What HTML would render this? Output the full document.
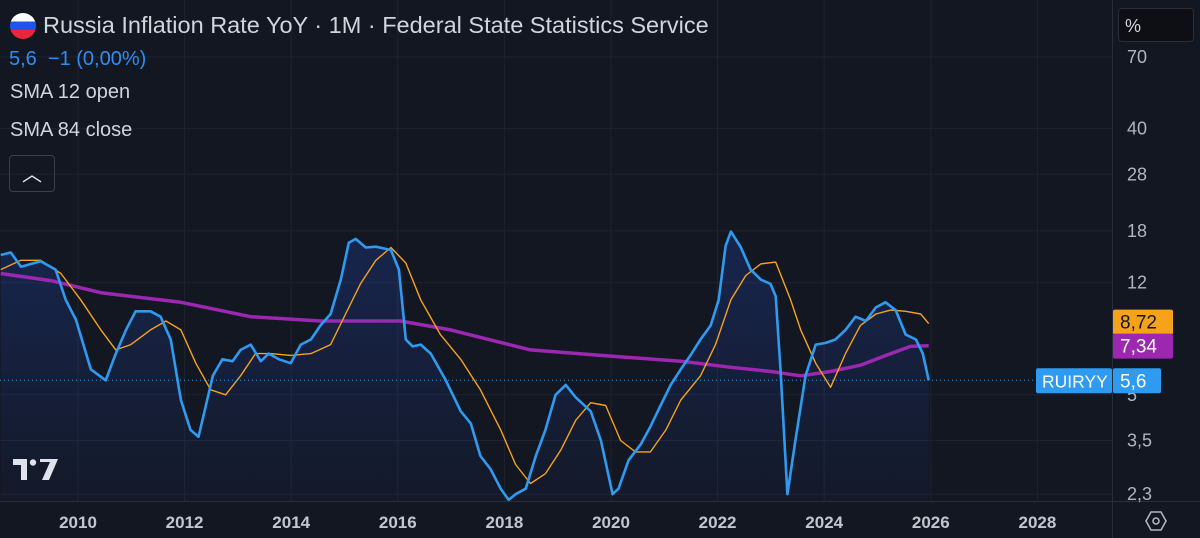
<!DOCTYPE html>
<html><head><meta charset="utf-8"><style>
body{margin:0;background:#131722;width:1200px;height:538px;overflow:hidden;font-family:"Liberation Sans",sans-serif}
.t{position:absolute;white-space:nowrap}
</style></head><body>
<svg id="chart" width="1200" height="538" style="position:absolute;left:0;top:0">
<defs><linearGradient id="g" x1="0" y1="0" x2="0" y2="1"><stop offset="0" stop-color="#2962ff" stop-opacity="0.2"/><stop offset="1" stop-color="#2962ff" stop-opacity="0.03"/></linearGradient></defs>
<g id="grid"></g>
<path id="area" fill="url(#g)"/>
<polyline id="purple" fill="none" stroke="#9c27b0" stroke-width="3.5" stroke-linejoin="round"/>
<polyline id="orange" fill="none" stroke="#f7a21b" stroke-width="1.4" stroke-linejoin="round"/>
<polyline id="blue" fill="none" stroke="#2e9bf0" stroke-width="2.6" stroke-linejoin="round"/>
<line id="lastline" x1="0" x2="1112" stroke="#2e9bf0" stroke-dasharray="1 3" stroke-width="1"/>
<line x1="1112.5" y1="0" x2="1112.5" y2="538" stroke="#2a2e39"/>
<line x1="0" y1="501.5" x2="1200" y2="501.5" stroke="#2a2e39"/>
<g id="yaxis"></g>
<g id="xaxis"></g>
<g id="tags"></g>
<g fill="#e0e3eb">
<path d="M13 459h14v21h-6v-15h-8z"/><circle cx="33" cy="462.5" r="3.2"/><path d="M40 459h18l-9 21h-7l8-18h-10z"/>
</g>
<g fill="none" stroke="#b2b5be" stroke-width="1.6">
<polygon points="1151,512 1161,512 1166,521 1161,530 1151,530 1146,521"/><circle cx="1156" cy="521" r="3"/>
</g>
</svg>
<div class="t" style="left:10px;top:13px;width:26px;height:26px;border-radius:13px;overflow:hidden;background:linear-gradient(#fff 0 33%,#1c57e8 33% 66%,#e8283a 66%)"></div>
<div class="t" style="left:43px;top:12px;font-size:23.5px;color:#d1d4dc">Russia Inflation Rate YoY · 1M · Federal State Statistics Service</div>
<div class="t" style="left:9px;top:48px;font-size:20px;color:#2e8ef0">5,6 &nbsp;−1 (0,00%)</div>
<div class="t" style="left:10px;top:81px;font-size:20px;color:#d1d4dc">SMA 12 open</div>
<div class="t" style="left:10px;top:119px;font-size:20px;color:#d1d4dc">SMA 84 close</div>
<div class="t" style="left:9px;top:155px;width:44px;height:35px;border:1px solid #3a3e4a;border-radius:4px;color:#e0e3eb;font-size:20px;text-align:center;line-height:38px">︿</div>
<div class="t" style="left:1118px;top:8px;width:76px;height:34px;background:#0e0f14;border:1px solid #2a2e39;border-radius:4px;color:#d1d4dc;font-size:18px;line-height:34px;padding-left:6px;box-sizing:border-box">%</div>
<script>
const blueYears=[2008.55,2008.74,2008.93,2009.30,2009.58,2009.77,2009.96,2010.24,2010.52,2010.71,2010.90,2011.08,2011.36,2011.55,2011.74,2011.93,2012.11,2012.26,2012.40,2012.53,2012.71,2012.90,2013.05,2013.24,2013.43,2013.58,2013.77,2013.99,2014.18,2014.37,2014.55,2014.74,2014.93,2015.08,2015.21,2015.40,2015.59,2015.87,2016.02,2016.15,2016.28,2016.43,2016.62,2016.90,2017.18,2017.37,2017.55,2017.74,2017.93,2018.08,2018.21,2018.40,2018.59,2018.77,2018.96,2019.15,2019.34,2019.62,2019.81,2020.03,2020.14,2020.33,2020.56,2020.74,2020.93,2021.12,2021.31,2021.49,2021.68,2021.87,2022.02,2022.15,2022.25,2022.43,2022.62,2022.81,2022.99,2023.09,2023.18,2023.31,2023.46,2023.65,2023.84,2024.03,2024.21,2024.40,2024.59,2024.78,2024.97,2025.15,2025.34,2025.53,2025.72,2025.85,2025.96];
const blueValues=[14.9,15.2,13.6,14.2,13.3,10.5,9.0,6.1,5.6,6.9,8.3,9.6,9.6,9.2,7.7,4.8,3.8,3.6,4.6,5.8,6.6,6.5,7.1,7.4,6.5,6.9,6.6,6.4,7.4,7.7,8.6,9.4,12.3,16.4,16.9,15.8,15.9,15.5,13.3,7.7,7.3,7.4,6.9,5.6,4.4,4.0,3.1,2.8,2.4,2.2,2.3,2.4,3.1,3.8,5.0,5.4,4.9,4.4,3.5,2.3,2.4,3.0,3.4,3.9,4.6,5.4,6.1,6.8,7.7,8.6,10.5,16.0,17.9,15.9,13.3,12.3,11.9,10.8,6.1,2.3,3.5,5.8,7.4,7.5,7.7,8.3,9.2,8.9,9.9,10.3,9.7,8.0,7.7,6.9,5.6];
const sma12Years=[2008.55,2008.93,2009.30,2009.68,2010.05,2010.43,2010.71,2010.99,2011.36,2011.65,2011.93,2012.21,2012.49,2012.77,2013.05,2013.33,2013.62,2013.99,2014.37,2014.74,2015.02,2015.30,2015.59,2015.87,2016.15,2016.43,2016.80,2017.18,2017.55,2017.93,2018.21,2018.49,2018.77,2019.06,2019.34,2019.62,2019.90,2020.18,2020.46,2020.74,2021.03,2021.31,2021.68,2021.96,2022.25,2022.53,2022.81,2023.09,2023.37,2023.56,2023.84,2024.12,2024.40,2024.68,2024.97,2025.25,2025.53,2025.81,2025.96];
const sma12Values=[13.3,14.3,14.3,12.9,10.5,8.3,7.1,7.4,8.3,8.9,8.3,6.4,5.2,5.0,5.8,6.9,6.9,6.8,6.9,7.4,9.4,11.9,14.3,15.8,14.0,10.5,8.0,6.6,5.2,3.8,2.9,2.5,2.7,3.25,4.1,4.7,4.6,3.5,3.2,3.2,3.8,4.8,5.8,7.4,10.5,12.7,13.9,14.1,10.5,8.3,6.4,5.3,6.9,8.6,9.4,9.7,9.6,9.4,8.72];
const sma84Years=[2008.55,2009.49,2010.43,2011.93,2013.24,2014.55,2016.05,2016.99,2018.49,2019.81,2021.31,2022.25,2023.00,2023.56,2024.12,2024.68,2025.25,2025.62,2025.96];
const sma84Values=[12.9,12.2,11.1,10.3,9.2,8.9,8.9,8.3,7.1,6.8,6.5,6.2,6.0,5.8,6.0,6.3,6.9,7.3,7.34];
const yTicks=[70,40,28,18,12,5,3.5,2.3];
const yTickLabels=["70","40","28","18","12","5","3,5","2,3"];
const xTicks=[2010,2012,2014,2016,2018,2020,2022,2024,2026,2028];
const lastValues=[8.72,7.34,5.6];
const lastLabels=["8,72","7,34","5,6"];

const X=yr=>78+(yr-2010)*53.3;
const Y=v=>57+(Math.log(70)-Math.log(v))*128;
const NS="http://www.w3.org/2000/svg";
const pts=(xs,vs)=>xs.map((t,i)=>X(t).toFixed(1)+","+Y(vs[i]).toFixed(1)).join(" ");
document.getElementById('blue').setAttribute('points',pts(blueYears,blueValues));
document.getElementById('orange').setAttribute('points',pts(sma12Years,sma12Values));
document.getElementById('purple').setAttribute('points',pts(sma84Years,sma84Values));
const first=X(blueYears[0]),last=X(blueYears[blueYears.length-1]);
document.getElementById('area').setAttribute('d',"M"+first+",501 L"+pts(blueYears,blueValues).split(" ").join(" L")+" L"+last+",501 Z");
const ll=document.getElementById('lastline');ll.setAttribute('y1',Y(blueValues[blueValues.length-1]));ll.setAttribute('y2',Y(blueValues[blueValues.length-1]));
const grid=document.getElementById('grid'),ya=document.getElementById('yaxis'),xa=document.getElementById('xaxis'),tags=document.getElementById('tags');
function mk(tag,attrs,parent,txt){const e=document.createElementNS(NS,tag);for(const k in attrs)e.setAttribute(k,attrs[k]);if(txt!==undefined)e.textContent=txt;parent.appendChild(e);return e;}
yTicks.forEach((v,i)=>{
  const g=mk('line',{x1:0,x2:1112,y1:Y(v),y2:Y(v),stroke:'#1f2330','stroke-width':1},grid);
  
  
  const t=mk('text',{x:1127,y:Y(v)+6,fill:'#b2b5be','font-size':18},ya,yTickLabels[i]);
  
  
});
xTicks.forEach(yr=>{
  const g=mk('line',{x1:X(yr),x2:X(yr),y1:0,y2:501,stroke:'#1f2330','stroke-width':1},grid);
  
  
  const t=mk('text',{x:X(yr),y:528,fill:'#c3c6ce','font-size':17,'font-weight':'bold','text-anchor':'middle'},xa,String(yr));
  
  
});
const tagColors=['#f7a21b','#9c27b0','#2e9bf0'],tagText=['#131722','#ffffff','#ffffff'];
lastValues.forEach((v,i)=>{
  let y=Y(v); if(i===0)y=Math.min(y,Y(lastValues[1])-24);
  const r=mk('rect',{x:1113,y:y-12,width:i===2?48:60,height:25,rx:2,fill:tagColors[i]},tags);
  
  
  const t=mk('text',{x:1120,y:y+7,fill:tagText[i],'font-size':19},tags,lastLabels[i]);
  
  
});
const yb=Y(lastValues[2]);
const sr=mk('rect',{x:1036,y:yb-12,width:76,height:25,rx:2,fill:'#2e9bf0'},tags);


const st=mk('text',{x:1042,y:yb+7,fill:'#fff','font-size':17.5},tags,'RUIRYY');


</script>
</body></html>
